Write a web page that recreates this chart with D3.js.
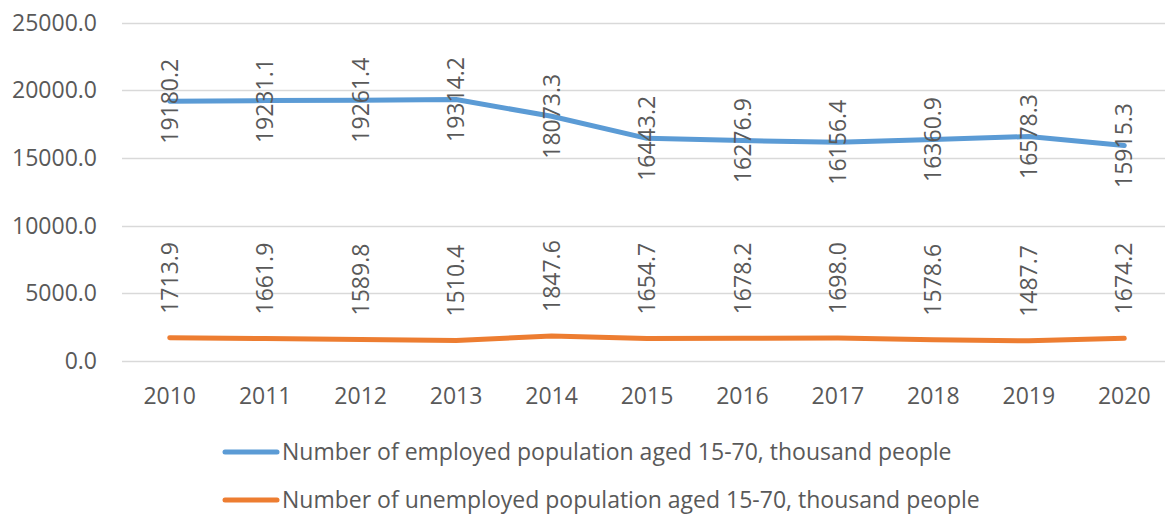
<!DOCTYPE html>
<html>
<head>
<meta charset="utf-8">
<script src="https://cdn.jsdelivr.net/npm/d3@7"></script>
<style>
  body { margin: 0; background: #fff; }
  svg text { font-family: "Open Sans", sans-serif; fill: #595959; }
</style>
</head>
<body>
<svg id="chart"></svg>
<script>
const years = ["2010", "2011", "2012", "2013", "2014", "2015", "2016", "2017", "2018", "2019", "2020"];
const employed = [19180.2, 19231.1, 19261.4, 19314.2, 18073.3, 16443.2, 16276.9, 16156.4, 16360.9, 16578.3, 15915.3];
const unemployed = [1713.9, 1661.9, 1589.8, 1510.4, 1847.6, 1654.7, 1678.2, 1698.0, 1578.6, 1487.7, 1674.2];
const yTicks = [0, 5000, 10000, 15000, 20000, 25000];
const seriesNames = [
  "Number of employed population aged 15-70, thousand people",
  "Number of unemployed population aged 15-70, thousand people"
];

const width = 1165, height = 516;
const fontSize = 23;

let svg = d3.select("#chart").attr("width", width).attr("height", height);

let x = d3.scaleBand().domain(years).range([122, 1172]);
let y = d3.scaleLinear().domain([0, 25000]).range([361, 22.5]);

// gridlines
svg.append("g")
  .selectAll("line")
  .data(yTicks)
  .join("line")
  .attr("x1", 122)
  .attr("x2", 1172)
  .attr("y1", d => Math.round(y(d)) + 0.5)
  .attr("y2", d => Math.round(y(d)) + 0.5)
  .attr("stroke", "#d9d9d9")
  .attr("stroke-width", 1.5);

// y labels
svg.append("g")
  .selectAll("text")
  .data(yTicks)
  .join("text")
  .attr("x", 97)
  .attr("y", d => y(d))
  .attr("dy", "0.35em")
  .attr("font-size", fontSize)
  .style("text-anchor", "end")
  .text(d => d3.format(".1f")(d));

// x labels
svg.append("g")
  .selectAll("text")
  .data(years)
  .join("text")
  .attr("x", d => x(d) + x.bandwidth() / 2)
  .attr("y", 404)
  .attr("font-size", fontSize)
  .style("text-anchor", "middle")
  .text(d => d);

let series = [
  { name: seriesNames[0], values: employed, color: "#5b9bd5" },
  { name: seriesNames[1], values: unemployed, color: "#ed7d31" }
];

let line = d3.line()
  .x((d, i) => x(years[i]) + x.bandwidth() / 2)
  .y(d => y(d));

series.forEach((s, k) => {
  svg.append("path")
    .datum(s.values)
    .attr("d", line)
    .attr("fill", "none")
    .attr("stroke", s.color)
    .attr("stroke-width", 5)
    .attr("stroke-linejoin", "round")
    .attr("stroke-linecap", "round");

  // data labels, rotated; employed centred on the point, unemployed above it
  svg.append("g")
    .selectAll("text")
    .data(s.values)
    .join("text")
    .attr("transform", (d, i) => {
      let cx = x(years[i]) + x.bandwidth() / 2;
      let cy = k === 0 ? y(d) : y(d) - 24;
      return `translate(${cx},${cy}) rotate(-90)`;
    })
    .attr("dy", "0.35em")
    .attr("font-size", fontSize)
    .style("text-anchor", k === 0 ? "middle" : "start")
    .text(d => d3.format(".1f")(d));
});

// legend
let legend = svg.append("g")
  .selectAll("g")
  .data(series)
  .join("g")
  .attr("transform", (d, i) => `translate(0,${452 + i * 48})`);

legend.append("line")
  .attr("x1", 225)
  .attr("x2", 277)
  .attr("stroke", d => d.color)
  .attr("stroke-width", 5)
  .attr("stroke-linecap", "round");

legend.append("text")
  .attr("x", 282)
  .attr("dy", "0.35em")
  .attr("font-size", fontSize)
  .text(d => d.name);
</script>
</body>
</html>
